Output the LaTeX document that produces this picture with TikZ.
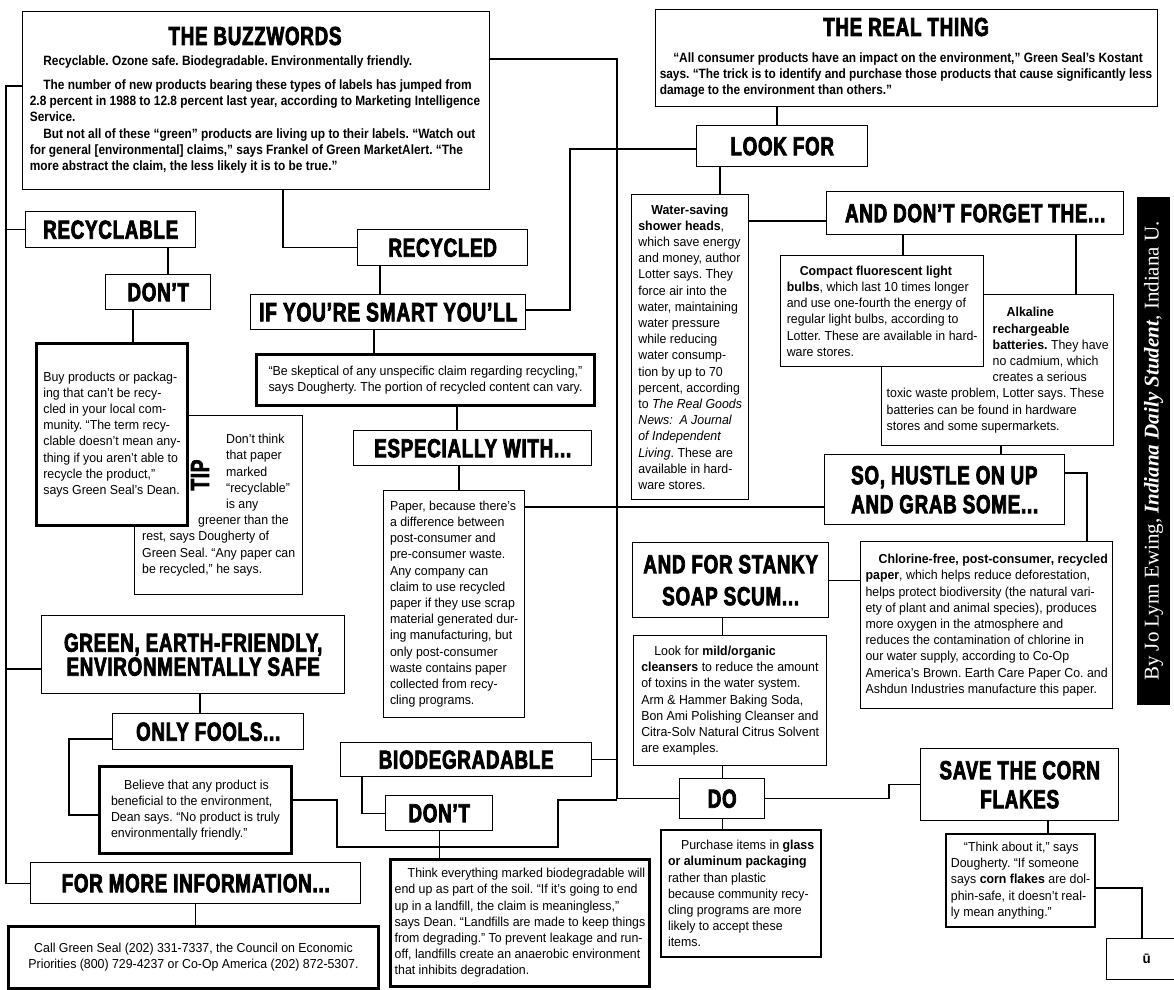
\documentclass[tikz,border=0pt]{standalone}
\usepackage{fontspec}
\setmainfont{Liberation Sans}[FakeStretch=0.95]
\newfontfamily\leadfont{Liberation Sans}[FakeStretch=0.88]
\newfontfamily\headfont{Liberation Sans}[FakeStretch=0.72,LetterSpace=3,BoldFeatures={FakeBold=3}]
\newfontfamily\bylinefont{Liberation Serif}
\usetikzlibrary{positioning}
\frenchspacing
\newcommand\bodysize{\fontsize{13}{16.2}\selectfont}
\newcommand\leadsize{\leadfont\bfseries\fontsize{13.5}{16.2}\selectfont}
\newcommand\headsize[1]{\headfont\bfseries\fontsize{26}{#1}\selectfont}

\begin{document}
\begin{tikzpicture}[x=1pt,y=-1pt,
        box/.style={draw,line width=1.4pt,fill=white,inner sep=0pt,align=left,
            font=\bodysize,anchor=north west},
        heavybox/.style={box,line width=3pt},
        midbox/.style={box,line width=2.2pt},
        headbox/.style={draw,line width=1.4pt,fill=white,inner sep=0pt,align=center,
            font=\headsize{30},anchor=north west},
        link/.style={line width=1.3pt}]
\useasboundingbox (0,0) rectangle (1174,989);

% the two big boxes on top
\node[box,minimum width=467pt,minimum height=178pt] (buzz) at (22,11) {};
\node[font=\headsize{30},inner sep=0pt] (buzzhead) at (255,36) {THE BUZZWORDS};
\node[below=10pt of buzzhead,inner sep=0pt,align=left,font=\leadsize] (buzztext)
  {\hspace*{1em}Recyclable. Ozone safe. Biodegradable. Environmentally friendly.\\[8pt]
   \hspace*{1em}The number of new products bearing these types of labels has jumped from\\
   2.8 percent in 1988 to 12.8 percent last year, according to Marketing Intelligence\\
   Service.\\
   \hspace*{1em}But not all of these “green” products are living up to their labels. “Watch out\\
   for general [environmental] claims,” says Frankel of Green MarketAlert. “The\\
   more abstract the claim, the less likely it is to be true.”};

\node[box,minimum width=502pt,minimum height=97pt] (real) at (655,9) {};
\node[font=\headsize{30},inner sep=0pt] (realhead) at (906,27) {THE REAL THING};
\node[below=16pt of realhead,inner sep=0pt,align=left,font=\leadsize] (realtext)
  {\hspace*{1em}“All consumer products have an impact on the environment,” Green Seal’s Kostant\\
   says. “The trick is to identify and purchase those products that cause significantly less\\
   damage to the environment than others.”};

% right half
\node[headbox,minimum width=171pt,minimum height=41pt] (look) at (696,125) {LOOK FOR};
\node[box,minimum width=117pt,minimum height=305pt] (water) at (631,194)
  {\hspace*{1em}\textbf{Water-saving}\\
   \textbf{shower heads},\\
   which save energy\\
   and money, author\\
   Lotter says. They\\
   force air into the\\
   water, maintaining\\
   water pressure\\
   while reducing\\
   water consump-\\
   tion by up to 70\\
   percent, according\\
   to \textit{The Real Goods}\\
   \textit{News:\ \ A Journal}\\
   \textit{of Independent}\\
   \textit{Living}. These are\\
   available in hard-\\
   ware stores.};
\node[headbox,minimum width=297pt,minimum height=43pt] (adf) at (826,191) {AND DON’T FORGET THE...};
\node[box,minimum width=232pt,minimum height=151pt] (alkaline) at (881,294)
  {\hspace*{120pt}\textbf{Alkaline}\\
   \hspace*{106pt}\textbf{rechargeable}\\
   \hspace*{106pt}\textbf{batteries.} They have\\
   \hspace*{106pt}no cadmium, which\\
   \hspace*{106pt}creates a serious\\
   toxic waste problem, Lotter says. These\\
   batteries can be found in hardware\\
   stores and some supermarkets.};
\node[box,minimum width=203pt,minimum height=111pt] (compact) at (780,255)
  {\hspace*{1em}\textbf{Compact fluorescent light}\\
   \textbf{bulbs}, which last 10 times longer\\
   and use one-fourth the energy of\\
   regular light bulbs, according to\\
   Lotter. These are available in hard-\\
   ware stores.};
\node[headbox,align=left,font=\headsize{29},minimum width=240pt,minimum height=70pt] (hustle) at (824,454)
  {SO, HUSTLE ON UP\\AND GRAB SOME...};
\node[box,minimum width=252pt,minimum height=167pt] (chlorine) at (860,541)
  {\hspace*{1em}\textbf{Chlorine-free, post-consumer, recycled}\\
   \textbf{paper}, which helps reduce deforestation,\\
   helps protect biodiversity (the natural vari-\\
   ety of plant and animal species), produces\\
   more oxygen in the atmosphere and\\
   reduces the contamination of chlorine in\\
   our water supply, according to Co-Op\\
   America’s Brown. Earth Care Paper Co. and\\
   Ashdun Industries manufacture this paper.};
\node[headbox,font=\headsize{32},minimum width=196pt,minimum height=75pt] (stanky) at (632,542)
  {AND FOR STANKY\\SOAP SCUM...};
\node[box,minimum width=193pt,minimum height=130pt] (mild) at (633,635)
  {\hspace*{1em}Look for \textbf{mild/organic}\\
   \textbf{cleansers} to reduce the amount\\
   of toxins in the water system.\\
   Arm \& Hammer Baking Soda,\\
   Bon Ami Polishing Cleanser and\\
   Citra-Solv Natural Citrus Solvent\\
   are examples.};
\node[headbox,minimum width=85pt,minimum height=40pt] (do) at (679,778) {DO};
\node[midbox,minimum width=160pt,minimum height=127pt] (purchase) at (660,829)
  {\hspace*{1em}Purchase items in \textbf{glass}\\
   \textbf{or aluminum packaging}\\
   rather than plastic\\
   because community recy-\\
   cling programs are more\\
   likely to accept these\\
   items.};
\node[headbox,font=\headsize{29},minimum width=198pt,minimum height=72pt] (corn) at (920,748)
  {SAVE THE CORN\\FLAKES};
\node[midbox,minimum width=149pt,minimum height=93pt] (think) at (945,833)
  {\hspace*{1em}“Think about it,” says\\
   Dougherty. “If someone\\
   says \textbf{corn flakes} are dol-\\
   phin-safe, it doesn’t real-\\
   ly mean anything.”};
\node[box,minimum width=80pt,minimum height=41pt,font=\bfseries\fontsize{14}{14}\selectfont] (endmark) at (1106,938) {ū};

% left half
\node[headbox,minimum width=170pt,minimum height=36pt] (recyclable) at (25,211) {RECYCLABLE};
\node[headbox,minimum width=105pt,minimum height=35pt] (dont1) at (105,274) {DON’T};
\node[box,minimum width=168pt,minimum height=179pt] (tip) at (134,415)
  {\hspace*{84pt}Don’t think\\
   \hspace*{84pt}that paper\\
   \hspace*{84pt}marked\\
   \hspace*{84pt}“recyclable”\\
   \hspace*{84pt}is any\\
   \hspace*{56pt}greener than the\\
   rest, says Dougherty of\\
   Green Seal. “Any paper can\\
   be recycled,” he says.};
\node[rotate=90,inner sep=0pt,font=\headsize{30}] (tiplabel) at (200,475) {TIP};
\node[heavybox,minimum width=151pt,minimum height=182pt] (buy) at (35,342)
  {Buy products or packag-\\
   ing that can’t be recy-\\
   cled in your local com-\\
   munity. “The term recy-\\
   clable doesn’t mean any-\\
   thing if you aren’t able to\\
   recycle the product,”\\
   says Green Seal’s Dean.};
\node[headbox,minimum width=170pt,minimum height=36pt] (recycled) at (357,229) {RECYCLED};
\node[headbox,font=\headsize{30}\fontsize{26.5}{30}\selectfont,minimum width=275pt,minimum height=35pt] (smart) at (250,294)
  {IF YOU’RE SMART YOU’LL};
\node[heavybox,minimum width=338pt,minimum height=51pt] (skeptical) at (255,353)
  {“Be skeptical of any unspecific claim regarding recycling,”\\
   says Dougherty. The portion of recycled content can vary.};
\node[headbox,minimum width=238pt,minimum height=35pt] (especially) at (353,430) {ESPECIALLY WITH...};
\node[box,minimum width=141pt,minimum height=227pt] (paper) at (383,490)
  {Paper, because there’s\\
   a difference between\\
   post-consumer and\\
   pre-consumer waste.\\
   Any company can\\
   claim to use recycled\\
   paper if they use scrap\\
   material generated dur-\\
   ing manufacturing, but\\
   only post-consumer\\
   waste contains paper\\
   collected from recy-\\
   cling programs.};
\node[headbox,font=\headsize{24},minimum width=303pt,minimum height=78pt] (green) at (41,615)
  {GREEN, EARTH-FRIENDLY,\\ENVIRONMENTALLY SAFE};
\node[headbox,minimum width=191pt,minimum height=36pt] (fools) at (112,713) {ONLY FOOLS...};
\node[heavybox,minimum width=192pt,minimum height=87pt] (believe) at (98,765)
  {\hspace*{1em}Believe that any product is\\
   beneficial to the environment,\\
   Dean says. “No product is truly\\
   environmentally friendly.”};
\node[headbox,minimum width=251pt,minimum height=34pt] (biodeg) at (340,742) {BIODEGRADABLE};
\node[headbox,minimum width=107pt,minimum height=35pt] (dont2) at (385,795) {DON’T};
\node[heavybox,minimum width=259pt,minimum height=127pt] (think2) at (389,858)
  {\hspace*{1em}Think everything marked biodegradable will\\
   end up as part of the soil. “If it’s going to end\\
   up in a landfill, the claim is meaningless,”\\
   says Dean. “Landfills are made to keep things\\
   from degrading.” To prevent leakage and run-\\
   off, landfills create an anaerobic environment\\
   that inhibits degradation.};
\node[headbox,minimum width=330pt,minimum height=41pt] (fmi) at (30,862) {FOR MORE INFORMATION...};
\node[heavybox,align=center,minimum width=370pt,minimum height=62pt] (call) at (7,925)
  {Call Green Seal (202) 331-7337, the Council on Economic\\
   Priorities (800) 729-4237 or Co-Op America (202) 872-5307.};

\node[fill=black,text=white,rotate=90,inner sep=0pt,minimum width=508pt,minimum height=33pt,
  font=\bylinefont\fontsize{21}{24}\selectfont] (byline) at (1153.5,451)
  {By Jo Lynn Ewing, \textbf{\textit{Indiana Daily Student}}, Indiana U.};

% connectors
\coordinate (spine) at (6,86);
\coordinate (trunk) at (617,59);
\draw[link] (buzz.west |- spine) -- (spine) |- (fmi.west);
\draw[link] (recyclable.west) -- (spine |- recyclable.west);
\draw[link] (green.west |- 0,669) -- (spine |- 0,669);
\draw[link] (buzz.south -| 283,0) |- (recycled.west);
\draw[link] (buzz.east |- trunk) -- (trunk) |- (do.west);
\draw[link] (biodeg.east) -- (trunk |- biodeg.east);
\draw[link] (paper.east |- 0,507) -- (hustle.west |- 0,507);
\draw[link] (smart.east |- 0,310) -| (570,149) -- (look.west |- 0,149);
\draw[link] (real.south -| 777,0) -- (look.north -| 777,0);
\draw[link] (look.south -| 720,0) -- (water.north -| 720,0);
\draw[link] (water.east |- 0,221) -- (adf.west |- 0,221);
\draw[link] (adf.south -| 903,0) -- (compact.north -| 903,0);
\draw[link] (adf.south -| 1076,0) -- (alkaline.north -| 1076,0);
\draw[link] (alkaline.south -| 1001,0) -- (hustle.north -| 1001,0);
\draw[link] (hustle.east |- 0,473) -| (chlorine.north -| 1087,0);
\draw[link] (stanky.east) -- (chlorine.west |- stanky.east);
\draw[link] (stanky.south -| do.north) -- (mild.north -| do.north);
\draw[link] (mild.south -| do.north) -- (do.north);
\draw[link] (do.south) -- (purchase.north -| do.south);
\draw[link] (do.east) -| (889,0 |- corn.west) -- (corn.west);
\draw[link] (corn.south -| 1048,0) -- (think.north -| 1048,0);
\draw[link] (think.east |- 0,888) -| (endmark.north -| 1142,0);
\draw[link] (recyclable.south -| 168,0) -- (dont1.north -| 168,0);
\draw[link] (dont1.south -| 133,0) -- (buy.north -| 133,0);
\draw[link] (recycled.south -| 380,0) -- (smart.north -| 380,0);
\draw[link] (smart.south -| 374,0) -- (skeptical.north -| 374,0);
\draw[link] (skeptical.south -| 457,0) -- (especially.north -| 457,0);
\draw[link] (especially.south -| 459,0) -- (paper.north -| 459,0);
\draw[link] (green.south -| 200,0) -- (fools.north -| 200,0);
\draw[link] (fools.west |- 0,739) -| (69,815) -- (believe.west |- 0,815);
\draw[link] (believe.east |- 0,800) -| (337,847) -| (558,800) -- (trunk |- 0,800);
\draw[link] (biodeg.south -| 362,0) |- (dont2.west);
\draw[link] (dont2.south) -- (think2.north -| dont2.south);
\draw[link] (fmi.south) -- (call.north -| fmi.south);

\end{tikzpicture}
\end{document}
